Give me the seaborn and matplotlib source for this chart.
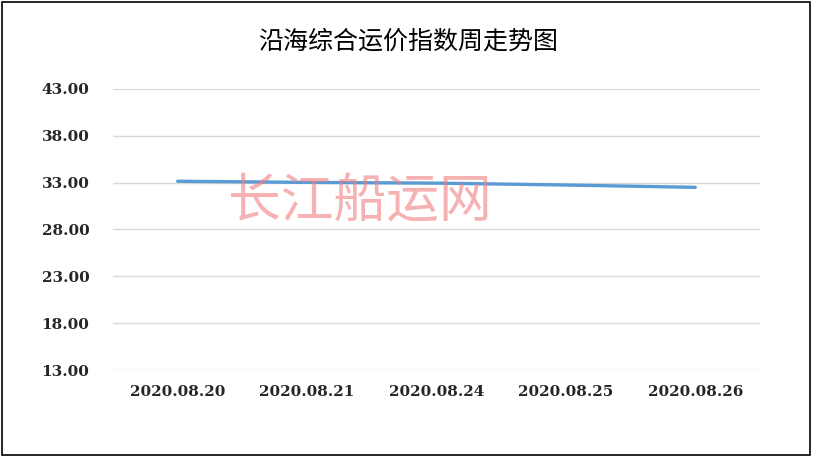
import matplotlib
matplotlib.use("Agg")
import matplotlib.pyplot as plt
from matplotlib.patches import Rectangle
import pandas as pd
import seaborn as sns

# data
dates = ["2020.08.20", "2020.08.21", "2020.08.24", "2020.08.25", "2020.08.26"]
index_values = [33.15, 33.03, 32.95, 32.75, 32.50]
y_ticks = [13, 18, 23, 28, 33, 38, 43]

df = pd.DataFrame({"date": dates, "value": index_values})

sns.set_style("white")
plt.rcParams["font.family"] = ["Noto Sans CJK SC", "DejaVu Sans"]

fig = plt.figure(figsize=(8.14, 4.61), dpi=100)
ax = fig.add_axes([113 / 814, 1 - 370 / 461, (760 - 113) / 814, (370 - 89) / 461])

sns.lineplot(data=df, x="date", y="value", ax=ax, color="#5B9BD5",
             linewidth=2.4, sort=False, solid_capstyle="round")

ax.set_xlim(-0.5, len(dates) - 0.5)
ax.set_ylim(13, 43)
ax.set_yticks(y_ticks)
ax.set_yticklabels([f"{v:.2f}" for v in y_ticks])
ax.grid(axis="y", color="#d9d9d9", linewidth=1)
ax.set_axisbelow(True)
for s in ax.spines.values():
    s.set_visible(False)
ax.tick_params(axis="both", length=0)
ax.tick_params(axis="y", pad=17)
ax.tick_params(axis="x", pad=11)
for lab in ax.get_xticklabels() + ax.get_yticklabels():
    lab.set_fontfamily("DejaVu Serif")
    lab.set_fontweight("bold")
    lab.set_fontsize(11)
ax.set_xlabel("")
ax.set_ylabel("")

fig.text(408 / 814, 1 - 42 / 461, "沿海综合运价指数周走势图", ha="center", va="center",
         fontsize=18, fontweight="medium", color="black")

# watermark
fig.text(360 / 814, 1 - 202 / 461, "长江船运网", ha="center", va="center",
         fontsize=38, color="#f08080", alpha=0.6)

# outer border
fig.patches.append(Rectangle((2 / 814, 6 / 461), 808 / 814, 453 / 461,
                             transform=fig.transFigure, fill=False,
                             edgecolor="black", linewidth=1.2))

fig.savefig("out.png", dpi=100)
